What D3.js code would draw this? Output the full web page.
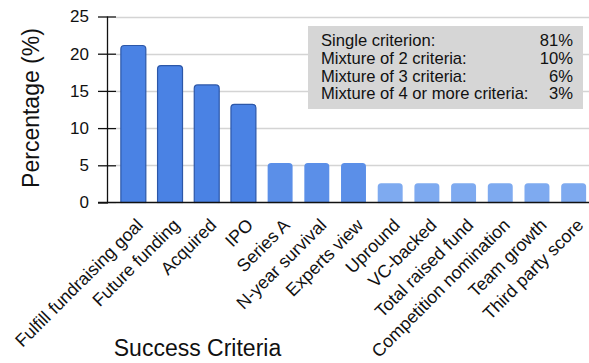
<!DOCTYPE html>
<html>
<head>
<meta charset="utf-8">
<script src="https://cdn.jsdelivr.net/npm/d3@7/dist/d3.min.js"></script>
<style>
  html, body { margin: 0; padding: 0; background: #fff; }
  svg { display: block; font-family: "Liberation Sans", Arial, sans-serif; }
</style>
</head>
<body>
<svg id="chart" width="589" height="363"></svg>
<script>
// Share of studies using each success criterion (%)
const categories = [
  "Fulfill fundraising goal", "Future funding", "Acquired", "IPO",
  "Series A", "N-year survival", "Experts view", "Upround", "VC-backed",
  "Total raised fund", "Competition nomination", "Team growth", "Third party score"
];
const values = [21.1, 18.4, 15.8, 13.2, 5.3, 5.3, 5.3, 2.6, 2.6, 2.6, 2.6, 2.6, 2.6];
const yTicks = [0, 5, 10, 15, 20, 25];
const mixLabels = ["Single criterion:", "Mixture of 2 criteria:", "Mixture of 3 criteria:", "Mixture of 4 or more criteria:"];
const mixValues = ["81%", "10%", "6%", "3%"];

const svg = d3.select("#chart");

const x = d3.scaleBand().domain(categories).range([115, 592]).paddingInner(0.32).paddingOuter(0.16);
const y = d3.scaleLinear().domain([0, 25]).range([202.5, 16.5]);

// gridlines
svg.append("g").selectAll("line").data(yTicks.filter(d => d > 0)).join("line")
  .attr("x1", 116).attr("x2", 589)
  .attr("y1", d => Math.round(y(d)) + 0.5).attr("y2", d => Math.round(y(d)) + 0.5)
  .attr("stroke", "#d4d4d4").attr("stroke-width", 1.3);

// y axis
const yAxis = d3.axisLeft(y).tickValues(yTicks).tickSize(18).tickPadding(9);
const gy = svg.append("g").attr("transform", "translate(116,0)").call(yAxis);
gy.select(".domain").remove();
gy.selectAll(".tick line").attr("stroke", "#111").attr("stroke-width", 1.3);
gy.selectAll(".tick text").attr("font-size", 17).attr("fill", "#111")
  .attr("font-family", "Liberation Sans, Arial, sans-serif");
svg.append("line").attr("x1", 107.5).attr("x2", 107.5).attr("y1", y(25)).attr("y2", y(0))
  .attr("stroke", "#111").attr("stroke-width", 1.3);

// bars
const colorFor = (d, i) => i < 4 ? "#4a82e4" : (d > 4 ? "#5b8fe8" : "#7eaaf0");
svg.append("g").selectAll("rect").data(values).join("rect")
  .attr("x", (d, i) => x(categories[i]))
  .attr("width", x.bandwidth())
  .attr("y", d => y(d))
  .attr("height", d => y(0) - y(d) + 3)
  .attr("rx", 3.5)
  .attr("fill", colorFor)
  .attr("stroke", (d, i) => i < 4 ? "#2c57a8" : "none")
  .attr("stroke-width", 1.2);

// cover rounded bottoms below baseline
svg.append("rect").attr("x", 108).attr("y", y(0) + 0.6).attr("width", 481).attr("height", 4).attr("fill", "#fff");

// baseline
svg.append("line").attr("x1", 98).attr("x2", 589).attr("y1", y(0)).attr("y2", y(0))
  .attr("stroke", "#111").attr("stroke-width", 1.3);

// category labels
svg.append("g").selectAll("text").data(categories).join("text")
  .attr("transform", d => `translate(${x(d) + x.bandwidth() / 2 + 2},${y(0) + 15}) rotate(-45)`)
  .attr("text-anchor", "end")
  .attr("dy", "0.7em")
  .attr("font-size", 17.8)
  .attr("fill", "#111")
  .text(d => d);

// axis titles
svg.append("text")
  .attr("transform", `translate(39,108) rotate(-90)`)
  .attr("text-anchor", "middle")
  .attr("font-size", 23)
  .attr("fill", "#111")
  .text("Percentage (%)");

svg.append("text")
  .attr("x", 197.5).attr("y", 356)
  .attr("text-anchor", "middle")
  .attr("font-size", 23)
  .attr("fill", "#111")
  .text("Success Criteria");

// mixture summary box
const box = svg.append("g");
box.append("rect").attr("x", 308).attr("y", 26).attr("width", 275).attr("height", 83).attr("fill", "#d6d6d6");
box.selectAll("text.lab").data(mixLabels).join("text").attr("class", "lab")
  .attr("x", 321).attr("y", (d, i) => 46.3 + i * 17.6)
  .attr("font-size", 16.6).attr("fill", "#111").text(d => d);
box.selectAll("text.val").data(mixValues).join("text").attr("class", "val")
  .attr("x", 573).attr("y", (d, i) => 46.3 + i * 17.6)
  .attr("text-anchor", "end")
  .attr("font-size", 16.6).attr("fill", "#111").text(d => d);
</script>
</body>
</html>
